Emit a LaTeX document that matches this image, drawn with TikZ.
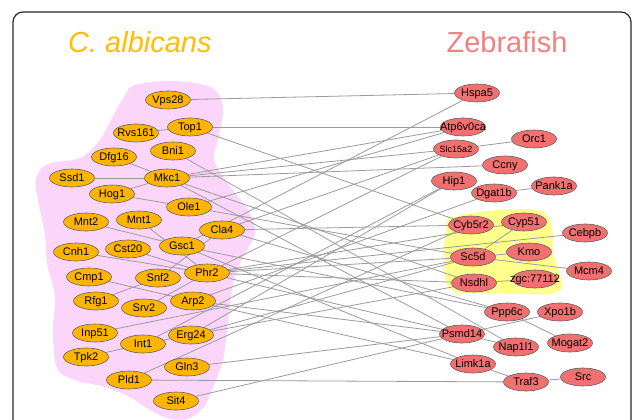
\documentclass[tikz,border=0pt]{standalone}
\usepackage{fontspec}
\setmainfont{Liberation Sans}
\usetikzlibrary{shapes.geometric}
\pgfdeclarelayer{blobs}
\pgfdeclarelayer{edges}
\pgfsetlayers{blobs,edges,main}
\definecolor{yfill}{RGB}{255,180,0}
\definecolor{rfill}{RGB}{242,112,112}
\definecolor{nodeline}{RGB}{95,95,95}
\definecolor{edgecol}{RGB}{155,155,155}
\definecolor{pinkblob}{RGB}{252,214,250}
\definecolor{yellowblob}{RGB}{255,255,140}
\definecolor{tyellow}{RGB}{255,190,0}
\definecolor{tred}{RGB}{242,128,130}
\definecolor{framecol}{RGB}{40,40,40}
\newcommand\ctr[1]{\makebox[0pt]{#1}}
\begin{document}
\begin{tikzpicture}[x=1pt,y=-1pt,
  gene/.style={ellipse,draw=nodeline,line width=0.6pt,minimum width=45pt,minimum height=18pt,inner sep=0pt,font=\fontsize{11}{12}\selectfont,text height=7.8pt,text depth=0pt},
  yeast/.style={gene,fill=yfill},
  fish/.style={gene,fill=rfill},
  link/.style={draw=edgecol,line width=0.8pt},
  title/.style={font=\fontsize{29}{32}\selectfont,inner sep=0pt}]
\useasboundingbox (0,0) rectangle (633,420);
\draw[draw=framecol,line width=1.2pt,rounded corners=10pt] (13,12) rectangle (631,445);
\node[title,text=tyellow,anchor=west,font=\fontsize{29}{32}\selectfont\itshape] (t1) at (68,42) {C. albicans};
\node[title,text=tred] (t2) at (507,42) {Zebrafish};
% yeast nodes
\node[yeast] (Vps28) at (168,100) {\ctr{Vps28}};
\node[yeast] (Top1) at (190,127) {\ctr{Top1}};
\node[yeast] (Rvs161) at (136,133) {\ctr{Rvs161}};
\node[yeast] (Bni1) at (173,151) {\ctr{Bni1}};
\node[yeast] (Dfg16) at (114,157) {\ctr{Dfg16}};
\node[yeast] (Ssd1) at (72,178) {\ctr{Ssd1}};
\node[yeast] (Mkc1) at (167,178) {\ctr{Mkc1}};
\node[yeast] (Hog1) at (112,194) {\ctr{Hog1}};
\node[yeast] (Ole1) at (189,207) {\ctr{Ole1}};
\node[yeast] (Mnt2) at (86,222) {\ctr{Mnt2}};
\node[yeast] (Mnt1) at (139,220) {\ctr{Mnt1}};
\node[yeast] (Cla4) at (222,230) {\ctr{Cla4}};
\node[yeast] (Cnh1) at (76,252) {\ctr{Cnh1}};
\node[yeast] (Cst20) at (128,249) {\ctr{Cst20}};
\node[yeast] (Gsc1) at (182,246) {\ctr{Gsc1}};
\node[yeast] (Phr2) at (207,273) {\ctr{Phr2}};
\node[yeast] (Cmp1) at (89,277) {\ctr{Cmp1}};
\node[yeast] (Snf2) at (158,278) {\ctr{Snf2}};
\node[yeast] (Rfg1) at (96,301) {\ctr{Rfg1}};
\node[yeast] (Srv2) at (144,308) {\ctr{Srv2}};
\node[yeast] (Arp2) at (193,301) {\ctr{Arp2}};
\node[yeast] (Inp51) at (95,333) {\ctr{Inp51}};
\node[yeast] (Erg24) at (191,335) {\ctr{Erg24}};
\node[yeast] (Int1) at (143,344) {\ctr{Int1}};
\node[yeast] (Tpk2) at (86,357) {\ctr{Tpk2}};
\node[yeast] (Gln3) at (187,367) {\ctr{Gln3}};
\node[yeast] (Pld1) at (129,380) {\ctr{Pld1}};
\node[yeast] (Sit4) at (176,401) {\ctr{Sit4}};
% zebrafish nodes
\node[fish] (Hspa5) at (477,93) {\ctr{Hspa5}};
\node[fish] (Atp6v0ca) at (463,127) {\ctr{Atp6v0ca}};
\node[fish] (Orc1) at (534,139) {\ctr{Orc1}};
\node[fish,font=\fontsize{9}{10}\selectfont] (Slc15a2) at (456,149) {\ctr{Slc15a2}};
\node[fish] (Ccny) at (505,165) {\ctr{Ccny}};
\node[fish] (Hip1) at (454,181) {\ctr{Hip1}};
\node[fish] (Pank1a) at (554,186) {\ctr{Pank1a}};
\node[fish] (Dgat1b) at (494,193) {\ctr{Dgat1b}};
\node[fish] (Cyb5r2) at (471,225) {\ctr{Cyb5r2}};
\node[fish] (Cyp51) at (524,222) {\ctr{Cyp51}};
\node[fish] (Cebpb) at (585,233) {\ctr{Cebpb}};
\node[fish] (Kmo) at (529,252) {\ctr{Kmo}};
\node[fish] (Sc5d) at (473,257) {\ctr{Sc5d}};
\node[fish] (Mcm4) at (589,271) {\ctr{Mcm4}};
\node[fish] (Nsdhl) at (474,283) {\ctr{Nsdhl}};
\node[fish] (zgc) at (535,279) {\ctr{zgc:77112}};
\node[fish] (Ppp6c) at (507,312) {\ctr{Ppp6c}};
\node[fish] (Xpo1b) at (560,312) {\ctr{Xpo1b}};
\node[fish] (Psmd14) at (462,334) {\ctr{Psmd14}};
\node[fish] (Mogat2) at (570,343) {\ctr{Mogat2}};
\node[fish] (Nap1l1) at (516,347) {\ctr{Nap1l1}};
\node[fish] (Limk1a) at (473,364) {\ctr{Limk1a}};
\node[fish] (Traf3) at (526,382) {\ctr{Traf3}};
\node[fish] (Src) at (583,377) {\ctr{Src}};
\begin{pgfonlayer}{blobs}
\fill[white] (0,0) rectangle (633,420);
\fill[pinkblob] plot[smooth cycle,tension=0.55] coordinates {
 (135,85) (175,81) (212,88) (223,108) (218,140) (214,160) (228,184) (248,210)
 (255,232) (246,252) (237,270) (231,295) (227,330) (223,360) (214,385) (205,405)
 (190,418) (170,419) (150,410) (130,397) (105,387) (75,380) (57,368) (53,330)
 (55,297) (47,263) (45,235) (38,200) (36,178) (48,164) (80,158) (100,140)
 (112,118) (124,97)};
\fill[yellowblob] plot[smooth cycle,tension=0.55] coordinates {
 (450,218) (488,211) (530,209) (548,216) (553,235) (553,252) (560,275)
 (562,288) (550,294) (520,294) (487,293) (455,292) (445,278) (444,250) (446,230)};
\end{pgfonlayer}
\begin{pgfonlayer}{edges}
\foreach \a/\b in {Rvs161/Top1,Ssd1/Mkc1,Dfg16/Mkc1,Hog1/Mkc1,Hog1/Ole1,Mnt2/Gsc1,
  Mnt1/Phr2,Cnh1/Phr2,Cst20/Phr2,Rfg1/Snf2,Snf2/Cla4,Cmp1/Arp2,Srv2/Phr2,Tpk2/Int1,Int1/Erg24,
  Vps28/Hspa5,Gsc1/Hspa5,Top1/Atp6v0ca,Top1/Cyb5r2,Ole1/Atp6v0ca,Mkc1/Atp6v0ca,Mkc1/Slc15a2,
  Cla4/Slc15a2,Phr2/Slc15a2,Mkc1/Ccny,Int1/Hip1,Erg24/Hip1,Arp2/Dgat1b,Phr2/Cyp51,Cla4/Cyb5r2,
  Pld1/Cyb5r2,Phr2/Cebpb,Ole1/Sc5d,Erg24/Sc5d,Inp51/Sc5d,Phr2/Sc5d,Mkc1/Nsdhl,Erg24/Nsdhl,
  Phr2/Nsdhl,Gsc1/Ppp6c,Cla4/Ppp6c,Mkc1/Psmd14,Gln3/Psmd14,Sit4/Psmd14,Arp2/Psmd14,
  Bni1/Nap1l1,Phr2/Nap1l1,Arp2/Limk1a,Gsc1/Limk1a,Pld1/Traf3,
  Slc15a2/Orc1,Dgat1b/Pank1a,Sc5d/Kmo,Sc5d/Mcm4,Nsdhl/zgc,Cyp51/Sc5d,Psmd14/Xpo1b,
  Ppp6c/Mogat2,Limk1a/Traf3,Traf3/Src}
  \draw[link] (\a) -- (\b);
\end{pgfonlayer}
\end{tikzpicture}
\end{document}
